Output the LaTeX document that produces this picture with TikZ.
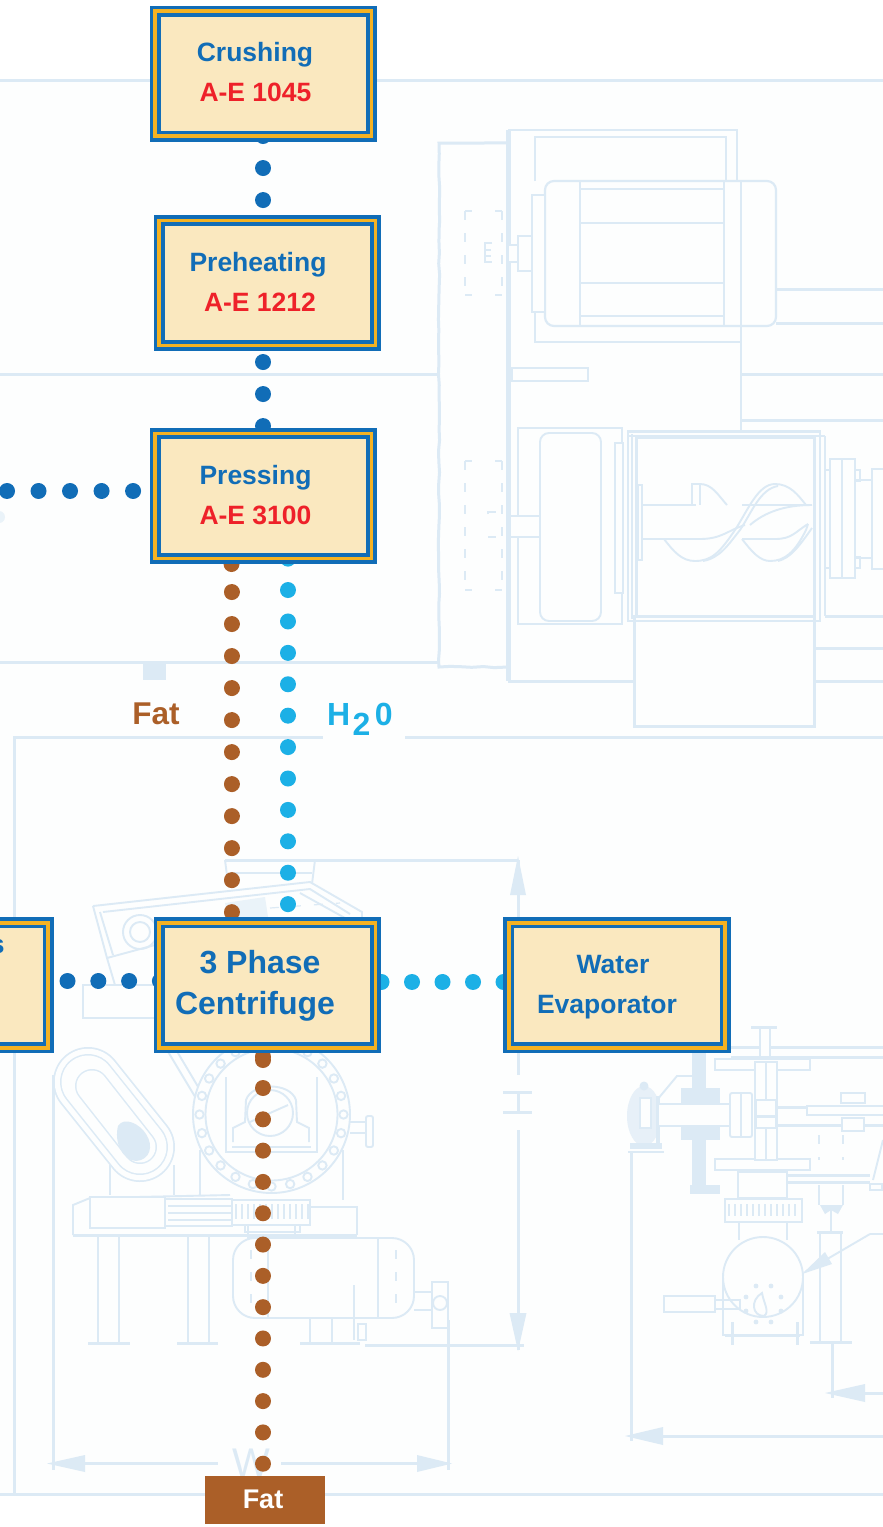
\documentclass[tikz,border=0pt]{standalone}
\usepackage{fontspec}
\setmainfont{Liberation Sans}
\usetikzlibrary{calc,decorations.pathmorphing}
\definecolor{flowblue}{HTML}{116DB7}
\definecolor{boxyellow}{HTML}{F4B223}
\definecolor{boxcream}{HTML}{FAE8BF}
\definecolor{codered}{HTML}{EE2129}
\definecolor{fatbrown}{HTML}{AB5F28}
\definecolor{watercyan}{HTML}{1CB0E6}
\definecolor{sketch}{HTML}{DCEAF5}
\definecolor{sheet}{HTML}{FDFEFE}
\pgfdeclarelayer{sk}
\pgfdeclarelayer{dotl}
\pgfsetlayers{sk,dotl,main}
\newcommand{\btext}[1]{\fontsize{#1}{#1}\selectfont\bfseries}
\tikzset{
  procbox/.style={draw=flowblue,line width=11pt,fill=boxcream,inner sep=0pt,outer sep=0pt,
    minimum width=216.5pt,minimum height=125pt,
    postaction={draw=boxyellow,line width=3.6pt}},
  lbl/.style={inner sep=0pt,outer sep=0pt,anchor=base},
  dotline/.style n args={3}{draw=#1,line width=16pt,line cap=round,
    dash pattern=on 0.01pt off #2pt,dash phase=#3pt},
  sk/.style={draw=sketch,line width=1.9pt},
  skt/.style={draw=sketch,line width=3pt},
  skthin/.style={draw=sketch,line width=1.2pt},
  skf/.style={fill=sketch,draw=none},
  skw/.style={draw=sketch,line width=1.9pt,fill=sheet},
  skd/.style={draw=sketch,line width=1.9pt,dash pattern=on 9pt off 13pt},
}
\begin{document}
\begin{tikzpicture}[x=1pt,y=-1pt]
\useasboundingbox (0,0) rectangle (883,1527);

% ---------- faded drawing behind the flow ----------
\begin{pgfonlayer}{sk}
\fill[white] (0,0) rectangle (883,1527);
\fill[sheet] (0,80) rectangle (883,1494);
\draw[skt] (0,80) -- (883,80);
\draw[skt] (0,1494) -- (883,1494);
\draw[skt] (0,374) -- (438,374);
\draw[skt] (0,662) -- (438,662);
\fill[sketch] (143,662) rectangle (166,680);
\fill[sketch!60] (-1,517) circle (6);
\draw[skt] (14,1494) -- (14,737) -- (323,737);
\draw[skt] (405,737) -- (883,737);

% press and motor, upper right
\draw[skt,decorate,decoration={random steps,segment length=11pt,amplitude=.7pt}] (508,143) -- (439,143) -- (439,667) -- (508,667);
\draw[draw=sketch,line width=5pt] (508,130) -- (508,681);
\draw[sk] (508,130) -- (737,130) -- (737,181);
\draw[sk,line width=2.2pt] (535,181) -- (535,137) -- (726,137) -- (726,181);
\draw[sk,line width=2.2pt] (535,312) -- (535,342) -- (741,342);
\draw[skw,line width=2.2pt,rounded corners=9pt] (545,181) rectangle (776,326);
\foreach \vx in {580,724,741} \draw[sk] (\vx,181) -- (\vx,326);
\foreach \hy in {189,223,283,316} \draw[sk] (580,\hy) -- (724,\hy);
\draw[sk,line width=2.2pt] (741,326) -- (741,433);
\draw[skw] (532,195) rectangle (545,312);
\draw[skw] (518,236) rectangle (532,271);
\draw[skw] (508,245) rectangle (518,262);
\draw[skt] (776,289.5) -- (883,289.5);
\draw[skt] (776,323.5) -- (883,323.5);
\draw[skt] (741,374) -- (883,374);
\draw[skt] (741,420) -- (883,420);
\draw[skw,line width=2.6pt] (512,368) rectangle (588,381);
\draw[skd] (465,211) -- (465,295);
\draw[skd] (502,211) -- (502,295);
\draw[skd] (465,211) -- (472,211);
\draw[skd] (495,211) -- (502,211);
\draw[skd] (465,295) -- (472,295);
\draw[skd] (495,295) -- (502,295);
\draw[sk] (492,243) -- (485,243) -- (485,262) -- (492,262);
\draw[sk] (485,250) -- (491,250);
\draw[sk] (485,256) -- (491,256);
\draw[skd] (465,461) -- (465,590);
\draw[skd] (502,461) -- (502,590);
\draw[skd] (465,461) -- (472,461);
\draw[skd] (495,461) -- (502,461);
\draw[skd] (465,590) -- (472,590);
\draw[skd] (495,590) -- (502,590);
\draw[sk] (488,514) -- (488,512) -- (496,512);
\draw[sk] (488,537) -- (496,537);
\draw[sk] (518,428) rectangle (622,624);
\draw[skw,rounded corners=9pt] (540,433) rectangle (601,621);
\draw[skw] (510,516) rectangle (540,537);
\draw[skw] (615,443) rectangle (623,593);
\draw[sk,line width=2.2pt] (628,431.5) rectangle (820,621);
\draw[sk] (632,434) -- (632,619);
\draw[sk] (825,436) -- (825,616);
\draw[sk] (628,436) -- (825,436);
\draw[skt] (636,437) rectangle (814,616);
\draw[sk] (814,437) -- (814,616);
\draw[skt] (634,616) rectangle (814,726);
\draw[skt] (508,681) -- (634,681);
\draw[skt] (814,681) -- (883,681);
\draw[skt] (814,648) -- (883,648);
\draw[skt] (825,616) -- (883,616);
\draw[skw] (638,485) rectangle (642,560);
\draw[sk] (642,505) -- (696,505);
\draw[sk] (742,505) -- (812,505);
\draw[sk] (642,539) -- (700,539) .. controls (722,539) and (728,530) .. (745,525);
\draw[sk] (742,539) -- (775,539) .. controls (792,539) and (795,532) .. (808,524);
\draw[sk] (750,525) .. controls (765,512) and (785,505) .. (812,505);
\draw[sk] (692,505) -- (692,484) -- (700,484) -- (700,505);
\draw[sk] (700,484) .. controls (712,484) and (718,495) .. (727,505);
\draw[sk] (664,539) .. controls (674,552) and (682,561) .. (695,561) .. controls (712,561) and (720,552) .. (735,530) .. controls (748,510) and (758,484) .. (775,484) .. controls (790,484) and (798,495) .. (806,505);
\draw[sk] (703,561) .. controls (720,558) and (728,545) .. (740,530) .. controls (752,512) and (760,489) .. (778,486);
\draw[sk] (742,539) .. controls (752,552) and (760,561) .. (770,561) .. controls (785,561) and (795,552) .. (806,530) -- (808,524);
\draw[sk] (778,561) .. controls (790,558) and (798,548) .. (812,528);
\draw[skw] (830,459) rectangle (855,578);
\draw[sk] (842,459) -- (842,578);
\draw[sk] (825,470) -- (830,470);
\draw[sk] (825,568) -- (830,568);
\draw[sk] (855,480) -- (872,480) -- (872,558) -- (855,558);
\draw[sk] (855,470) rectangle (860,481);
\draw[sk] (855,557) rectangle (860,568);
\draw[skw] (872,469) rectangle (890,569);

% dimension lines, centre
\draw[skt] (225,860) -- (518,860);
\draw[skt] (518,860) -- (518,1075);
\fill[sketch] (518,856) -- (526,895) -- (510,895) -- cycle;
\draw[skt] (503,1092.5) -- (532,1092.5);
\draw[skt] (503,1112) -- (532,1112);
\draw[skt] (518,1092.5) -- (518,1112);
\draw[skt] (518,1130) -- (518,1350);
\fill[sketch] (518,1351) -- (509.5,1313) -- (526.5,1313) -- cycle;
\draw[skt] (365,1345) -- (524,1345);

% shaker, upper centre
\draw[sk] (225,860) -- (228,883);
\draw[sk] (315,860) -- (312,884);
\draw[sk] (230,873) -- (312,873);
\draw[sk] (93,906) -- (107,958);
\draw[sk] (100,912) -- (113,955);
\draw[sk] (93,906) -- (310,882) -- (362,912) -- (362,925);
\draw[sk] (103,912) -- (310,889) -- (350,914);
\draw[sk] (300,893) -- (345,918);
\fill[sketch!60] (225,903) -- (265,897) -- (268,917) -- (228,917) -- cycle;
\draw[skd,line width=1.2pt] (270,908) -- (340,903);
\draw[sk] (140,932) circle (17);
\draw[sk] (140,932) circle (10);
\draw[sk] (107,958) -- (155,945);
\draw[sk] (83,985) rectangle (155,1018);
\draw[sk] (107,958) -- (115,985);
\draw[sk] (167,1050) -- (197,1100);
\draw[sk] (175,1048) -- (200,1090);

% inclined belt
\draw[draw=sketch,line width=70pt,line cap=round] (88,1082) -- (140,1147);
\draw[draw=sheet,line width=66.5pt,line cap=round] (88,1082) -- (140,1147);
\draw[draw=sketch,line width=56pt,line cap=round] (88,1082) -- (140,1147);
\draw[draw=sheet,line width=53pt,line cap=round] (88,1082) -- (140,1147);
\draw[draw=sketch,line width=34pt,line cap=round] (92,1086) -- (140,1147);
\draw[draw=sheet,line width=31pt,line cap=round] (92,1086) -- (140,1147);
\fill[sketch] (118,1126) .. controls (124,1116) and (140,1124) .. (146,1134) .. controls (154,1146) and (150,1160) .. (136,1161) .. controls (122,1160) and (114,1142) .. (118,1126) -- cycle;
\draw[sk] (110,1165) -- (110,1195);
\draw[sk] (174,1165) -- (174,1195);

% flange
\draw[skw] (271.5,1114.5) circle (78.5);
\draw[sk] (271.5,1114.5) circle (66);
\foreach \a in {0,15,...,345} \draw[sk,shift={(271.5,1114.5)}] (\a:72) circle (4.2);
\draw[sk,line width=2.6pt] (226,1077) -- (226,1152) -- (317,1152) -- (317,1077);
\draw[sk] (232,1147) -- (311,1147);
\draw[sk] (233,1142) -- (233,1128) -- (245,1122) -- (246,1100) .. controls (252,1082) and (290,1082) .. (296,1100) -- (297,1122) -- (309,1128) -- (309,1142);
\draw[sk] (270,1113) circle (23);
\draw[sk] (250,1122) -- (270,1113) -- (288,1105);
\draw[sk] (350,1122) -- (366,1122);
\draw[sk] (350,1133) -- (366,1133);
\draw[skw,rounded corners=2pt] (366,1116) rectangle (373,1147);
\draw[sk] (200,1150) -- (200,1196);
\draw[sk] (343,1150) -- (343,1200);

% frame, gear, tank
\draw[skt] (73,1235) -- (357,1235);
\draw[sk] (73,1235) -- (73,1205) -- (90,1198) -- (230,1195);
\draw[sk] (310,1207) -- (357,1207) -- (357,1235);
\draw[skw] (90,1197) rectangle (165,1228);
\draw[skw] (165,1199) rectangle (232,1226);
\foreach \hy in {1206,1213,1220} \draw[sk] (168,\hy) -- (232,\hy);
\draw[skw] (232,1200) rectangle (310,1225);
\foreach \vx in {236,242,...,308} \draw[skt,line width=2pt] (\vx,1204) -- (\vx,1219);
\draw[sk] (245,1225) rectangle (300,1232);
\foreach \vx in {98,119,188,209} \draw[sk] (\vx,1235) -- (\vx,1343);
\draw[skt] (88,1343) -- (130,1343);
\draw[skt] (177,1343) -- (218,1343);
\draw[skw,rounded corners=22pt] (233,1238) rectangle (414,1318);
\draw[sk] (268,1238) -- (268,1318);
\draw[sk] (378,1238) -- (378,1318);
\draw[skd,line width=1.2pt] (251,1250) -- (251,1310);
\draw[skd,line width=1.2pt] (396,1250) -- (396,1310);
\draw[sk] (248,1225) rectangle (295,1238);
\draw[sk] (310,1318) -- (310,1343);
\draw[sk] (332,1318) -- (332,1343);
\draw[sk] (354,1285) -- (354,1340);
\draw[skt] (300,1343) -- (360,1343);
\draw[sk] (358,1324) rectangle (366,1340);
\draw[sk] (414,1292) -- (432,1292);
\draw[sk] (414,1310) -- (432,1310);
\draw[skw] (432,1282) rectangle (448,1328);
\draw[sk] (440,1303) circle (7);
\draw[skt] (448,1320) -- (448,1470);
\draw[skt] (53,1075) -- (53,1470);
\draw[skt] (60,1463.5) -- (218,1463.5);
\draw[skt] (281,1463.5) -- (440,1463.5);
\fill[sketch] (47,1463.5) -- (85,1455) -- (85,1472) -- cycle;
\fill[sketch] (452,1463.5) -- (417,1455) -- (417,1472) -- cycle;
\node[lbl,text=sketch] (dimw) at (251,1476) {\btext{40}\mdseries W};

% right-hand machine
\draw[skt] (631,1153) -- (631,1441);
\draw[skt] (631,1436) -- (883,1436);
\fill[sketch] (625,1436) -- (663,1427) -- (663,1445) -- cycle;
\draw[skt] (832,1342) -- (832,1398);
\draw[skt] (832,1393) -- (883,1393);
\fill[sketch] (825,1393) -- (865,1384) -- (865,1402) -- cycle;
\draw[skt] (731,1047) -- (883,1047);
\draw[skt] (731,1057) -- (883,1057);
\fill[sketch] (692,1052) rectangle (706,1192);
\fill[sketch] (681,1088) rectangle (720,1140);
\fill[sketch] (690,1185) rectangle (720,1194);
\draw[sk] (657,1100) -- (677,1076) -- (692,1076);
% lantern valve
\fill[sketch!70] (644,1116) ellipse (17 and 30);
\fill[sheet] (640,1098) rectangle (651,1128);
\draw[sk] (640,1098) rectangle (651,1128);
\fill[sketch] (644,1086) circle (4.5);
\fill[sketch] (656,1096) rectangle (660,1148);
\fill[sketch] (630,1143) rectangle (662,1149);
\draw[sk] (628,1152) -- (664,1152);
\draw[skw] (658,1104) rectangle (730,1126);
\draw[skw,rounded corners=2pt] (730,1093) rectangle (752,1137);
\draw[sk] (741,1093) -- (741,1137);
\draw[skw] (715,1059) rectangle (810,1070);
\draw[skw,line width=2.4pt] (715,1159) rectangle (810,1170);
\draw[skw] (755,1062) rectangle (777,1160);
\draw[sk,line width=2.6pt] (766,1062) -- (766,1160);
\draw[skw] (756,1100) rectangle (776,1128);
\draw[skt] (756,1116) -- (776,1116);
\draw[skw] (760,1027) rectangle (770,1057);
\draw[skt] (751,1027) -- (777,1027);
\draw[skt] (777,1107) -- (883,1107);
\draw[skw] (807,1106) rectangle (890,1115);
\draw[skt] (778,1125) -- (883,1125);
\draw[skt] (787,1175) -- (870,1175);
\draw[skt] (787,1182) -- (870,1182);
\draw[sk] (870,1184) rectangle (882,1190);
\draw[sk] (738,1172) rectangle (787,1198);
\draw[skw] (725,1199) rectangle (802,1222);
\foreach \vx in {729,735,...,798} \draw[draw=sketch,line width=2pt] (\vx,1204) -- (\vx,1216);
\draw[sk] (739,1222) -- (739,1240);
\draw[sk] (787,1222) -- (787,1240);
\draw[sk] (763,1277) circle (40);
\draw[sk] (723,1277) -- (723,1335) -- (803,1335) -- (803,1277);
\draw[skt] (725,1335) -- (800,1335);
\draw[skt] (732,1322) -- (732,1345);
\draw[skt] (797,1322) -- (797,1345);
\draw[skw] (664,1296) rectangle (715,1312);
\draw[sk] (715,1300) rectangle (740,1309);
\foreach \px/\py in {756/1286,771/1286,746/1297,781/1297,746/1311,781/1311,756/1322,771/1322} \fill[sketch] (\px,\py) circle (2.4);
\draw[sk] (762,1293) .. controls (750,1300) and (752,1316) .. (764,1316) .. controls (770,1312) and (764,1304) .. (762,1293) -- cycle;
\draw[skt,line width=2.5pt] (883,1234) -- (870,1234);
\draw[sk] (870,1234) -- (805,1272);
\fill[sketch] (802,1274) -- (825,1252) -- (832,1264) -- cycle;
\draw[sk] (820,1232) rectangle (841,1342);
\draw[skt] (817,1232) -- (843,1232);
\draw[skt] (810,1342) -- (852,1342);
\draw[sk] (831,1210) -- (831,1232);
\fill[sketch] (820,1205) -- (843,1205) -- (838,1214) -- (831,1210) -- (825,1214) -- cycle;
\draw[sk] (819,1185) -- (819,1205);
\draw[sk] (843,1185) -- (843,1205);
\draw[skd,line width=1.2pt] (819,1135) -- (819,1160);
\draw[skd,line width=1.2pt] (843,1135) -- (843,1160);
\draw[sk] (841,1093) rectangle (865,1103);
\draw[skw] (842,1118) rectangle (864,1131);
\draw[sk] (883,1140) -- (873,1180);
\end{pgfonlayer}

% ---------- process boxes ----------
\node[procbox] (crushing) at (263.25,73.5) {};
\node[procbox] (preheating) at (267.25,283) {};
\node[procbox] (pressing) at (263.25,496) {};
\node[procbox] (centrifuge) at (267.25,985.25) {};
\node[procbox] (evaporator) at (617,985.25) {};
\node[procbox] (solids) at (-60.25,985.25) {};
\coordinate (feedin) at (-25,491);

\node[lbl,text=flowblue] (t1a) at (255,61) {\btext{26.5}Crushing};
\node[lbl,text=codered] (t1b) at (255.5,101) {\btext{26.5}A-E 1045};
\node[lbl,text=flowblue] (t2a) at (258,271) {\btext{26.5}Preheating};
\node[lbl,text=codered] (t2b) at (260,311) {\btext{26.5}A-E 1212};
\node[lbl,text=flowblue] (t3a) at (255.5,484) {\btext{26.5}Pressing};
\node[lbl,text=codered] (t3b) at (255.5,524) {\btext{26.5}A-E 3100};
\node[lbl,text=flowblue] (t4a) at (260,973.5) {\btext{32}3 Phase};
\node[lbl,text=flowblue] (t4b) at (255,1014) {\btext{32}Centrifuge};
\node[lbl,text=flowblue] (t5a) at (613,973) {\btext{26.5}Water};
\node[lbl,text=flowblue] (t5b) at (607,1013) {\btext{26.5}Evaporator};
\node[lbl,text=flowblue,anchor=base east] (t6) at (4.5,953) {\btext{26.5}s};

\node[lbl,text=fatbrown] (fatlabel) at (156,724.5) {\btext{31.5}Fat};
\node[lbl,text=watercyan,anchor=base west] (waterlabel) at (327,725.5) {\btext{32}H\kern2.5pt\raisebox{-10pt}{2}\kern4.5pt 0};
\node[fill=fatbrown,inner sep=0pt,outer sep=0pt,minimum width=120pt,minimum height=48pt] (fatbox) at (265,1500) {};
\node[lbl,text=white] (fatboxlabel) at (263,1508) {\btext{27}Fat};

% ---------- dotted connectors ----------
\begin{pgfonlayer}{dotl}
\draw[dotline={flowblue}{32}{1.5}] (crushing.center) -- (crushing.center |- preheating.center);
\draw[dotline={flowblue}{32}{17}] (pressing.center |- preheating.center) -- (pressing.center);
\draw[dotline={flowblue}{31.5}{31}] (feedin) -- (feedin -| pressing.center);
\draw[dotline={fatbrown}{32}{0}] ([xshift=-31.75pt]pressing.center) -- ([xshift=-31.75pt]pressing.center |- centrifuge.center);
\fill[fatbrown] ([xshift=-31.75pt,yshift=-68pt]pressing.center) circle (8);
\draw[dotline={watercyan}{31.4}{0.2}] ([xshift=24.75pt]pressing.center) -- ([xshift=24.75pt]pressing.center |- centrifuge.center);
\draw[dotline={flowblue}{30.8}{26.3}] ([yshift=4.25pt]solids.center) -- ([yshift=4.25pt]centrifuge.center);
\draw[dotline={watercyan}{30.5}{7.8}] ([yshift=3.25pt]centrifuge.center) -- ([yshift=3.25pt]evaporator.center);
\draw[dotline={fatbrown}{31.3}{22.5}] ([xshift=-4.25pt]centrifuge.center) -- ([xshift=-4.25pt]centrifuge.center |- fatbox.center);
\fill[fatbrown] ([xshift=-4.25pt,yshift=-74.75pt]centrifuge.center) circle (8);
\end{pgfonlayer}
\end{tikzpicture}
\end{document}
